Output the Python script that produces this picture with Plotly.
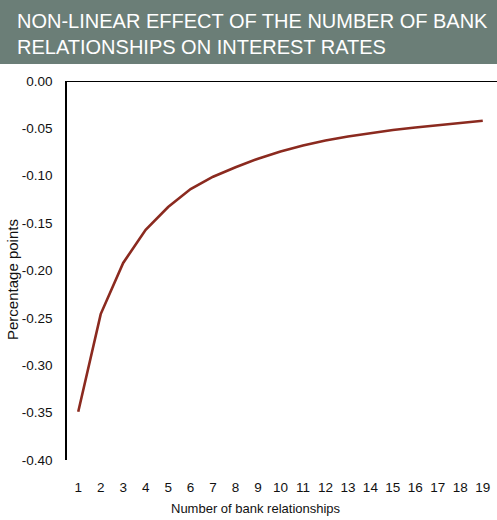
import plotly.graph_objects as go

relationships = list(range(1, 20))
effect = [-0.349, -0.246, -0.192, -0.157, -0.133, -0.114, -0.101, -0.091, -0.082,
          -0.0745, -0.068, -0.0627, -0.0585, -0.0548, -0.0518, -0.049, -0.0466, -0.0442, -0.042]
y_ticks = [0.0, -0.05, -0.10, -0.15, -0.20, -0.25, -0.30, -0.35, -0.40]
title_lines = ["NON-LINEAR EFFECT OF THE NUMBER OF BANK", "RELATIONSHIPS ON INTEREST RATES"]
x_title = "Number of bank relationships"
y_title = "Percentage points"

W, H = 497, 520
ml, mr, mt, mb = 67, 3, 81, 60
pw, ph = W - ml - mr, H - mt - mb

def px_x(p):
    return (p - ml) / pw

def px_y(p):
    return 1 - (p - mt) / ph

fig = go.Figure()
fig.add_trace(go.Scatter(x=relationships, y=effect, mode="lines",
                         line=dict(color="#8B2A1F", width=2.6), hoverinfo="skip"))

font = "Liberation Sans, Arial, sans-serif"
fig.update_layout(
    width=W, height=H,
    margin=dict(l=ml, r=mr, t=mt, b=mb),
    paper_bgcolor="white", plot_bgcolor="white",
    showlegend=False,
    font=dict(family=font, size=13.5, color="#111111"),
    xaxis=dict(range=[0.5, 19.5], tickmode="array", tickvals=relationships,
               ticktext=[str(v) for v in relationships], showgrid=False, zeroline=False,
               showline=False, ticks="", ticklabelstandoff=17),
    yaxis=dict(range=[-0.40, 0.0], tickmode="array", tickvals=y_ticks,
               ticktext=[f"{v:.2f}" for v in y_ticks], showgrid=False, zeroline=False,
               showline=True, linecolor="black", linewidth=1.5, ticks="", ticklabelstandoff=10),
    shapes=[
        dict(type="rect", xref="paper", yref="paper",
             x0=px_x(0), x1=px_x(W), y0=px_y(64), y1=px_y(0),
             fillcolor="#6B7E77", line=dict(width=0), layer="below"),
        dict(type="line", xref="paper", yref="y", x0=0, x1=px_x(W), y0=0, y1=0,
             line=dict(color="black", width=2)),
    ],
    annotations=[
        dict(text="<br>".join(title_lines), xref="paper", yref="paper",
             x=px_x(15), y=px_y(8), xanchor="left", yanchor="top", align="left",
             showarrow=False, font=dict(family=font, size=20, color="white")),
        dict(text=x_title, xref="paper", yref="paper", x=px_x(256), y=px_y(508),
             xanchor="center", yanchor="middle", showarrow=False,
             font=dict(family=font, size=13, color="#111111")),
        dict(text=y_title, xref="paper", yref="paper", x=px_x(12), y=px_y(280),
             xanchor="center", yanchor="middle", textangle=-90, showarrow=False,
             font=dict(family=font, size=15, color="#111111")),
    ],
)

fig.write_html("out.html")
